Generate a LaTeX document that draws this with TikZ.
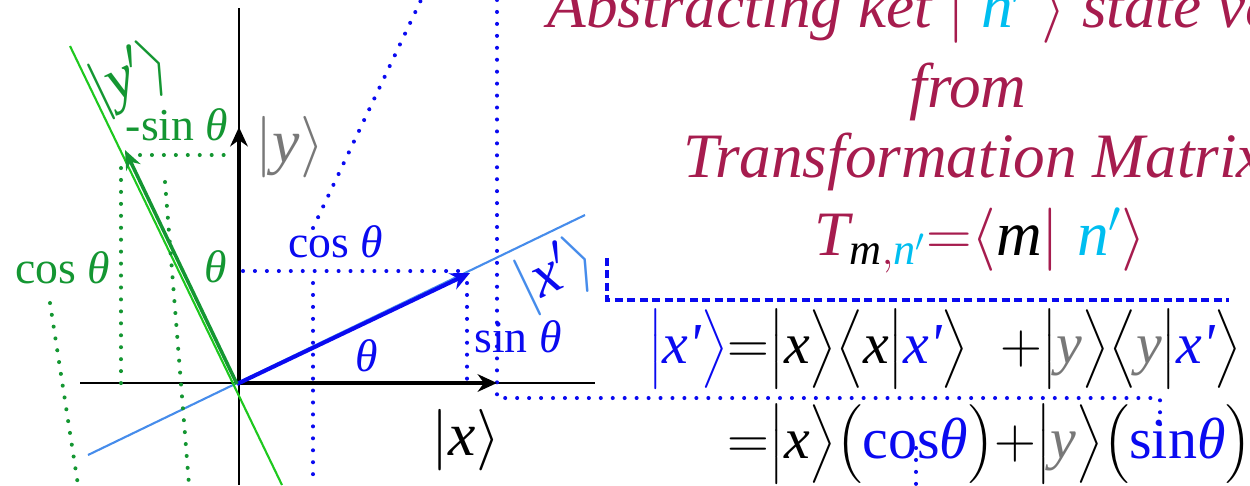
\RequirePackage{fix-cm}
\documentclass[tikz,border=0pt]{standalone}
\usepackage{amsmath}
\usepackage{fontspec}
\setmainfont{Liberation Serif}
\usetikzlibrary{arrows.meta, calc}
\definecolor{crim} {RGB}{166, 28, 78}
\definecolor{kcyan}{RGB}{  0,190,240}
\definecolor{kblue}{RGB}{ 10, 10,240}
\definecolor{lblue}{RGB}{ 70,140,235}
\definecolor{bgrn} {RGB}{ 30,200, 30}
\definecolor{dgrn} {RGB}{ 20,150, 50}
\definecolor{kgray}{RGB}{120,120,120}
\tikzset{
  % Axis lines and basis arrows
  Ax/.style   ={line width=1.1pt,black},
  AxArr/.style={-{Stealth[length=11pt,width=10pt]},line width=2.8pt,black},
  BArr/.style ={-{Stealth[length=11pt,width=10pt]},line width=2.3pt,kblue},
  GArr/.style ={-{Stealth[length=11pt,width=9pt]},line width=2pt,dgrn},
  % Projection lines
  BDot/.style ={kblue,line width=2.3pt,line cap=round,
                dash pattern=on 0pt off 6.8pt},
  GDot/.style ={dgrn,line width=2.3pt,line cap=round,
                dash pattern=on 0pt off 6.8pt},
  BDash/.style={kblue,line width=2.3pt,dash pattern=on 4.5pt off 2.6pt},
  % Text
  Lbl/.style={font=\fontsize{26}{30}\selectfont,inner sep=0pt},
  Ket/.style={font=\fontsize{35}{40}\selectfont,inner sep=0pt},
  Ttl/.style={font=\fontsize{36}{42}\selectfont\itshape,text=crim,
              inner sep=0pt},
  Eq/.style ={font=\fontsize{33}{40}\selectfont,inner sep=0pt},
}
\begin{document}
\begin{tikzpicture}[x=0.02cm,y=-0.02cm]
  \useasboundingbox (0,0) rectangle (1250,485);
  \clip (0,0) rectangle (1250,485);
  % Origin and axes
  \coordinate (O) at (239,383);
  \draw[Ax] (80,383) -- (595,383);
  \draw[Ax] (239,8) -- (239,485);
  % Rotated frame lines
  \draw[lblue,line width=1.2pt] (88,455) -- (585,215);
  \draw[bgrn,line width=1.2pt] (70,46) -- (282,485);
  % Projections of |x'>
  \draw[BDot] (243,271) -- (466,271);
  \draw[BDot] (313,283) -- (313,485);
  \draw[BDot] (467,283) -- (467,383);
  \draw[BDot] (313,228) -- (421,0);
  \draw[BDot] (497,0) -- (497,398) -- (1160,398) -- (1160,428);
  \draw[BDot] (916,448) -- (916,485);
  % Projections of |y'>
  \draw[GDot] (140,155) -- (228,155);
  \draw[GDot] (121,168) -- (121,385);
  \draw[GDot] (165,182) -- (189,485);
  \draw[GDot] (50,303) -- (78,485);
  % Link from label to expansion
  \draw[BDash] (607,258) -- (607,300) -- (1229,300);
  % Basis vectors
  \draw[AxArr] (O) -- (497,383);
  \draw[AxArr] (O) -- (239,127);
  \draw[BArr] (237,384) -- (470,273);
  \draw[GArr] (237,384) -- (125,150);
  % Kets on the axes
  \node[Ket] (kx) at (466,440) {$\vert\textit{x}\rangle$};
  \node[Ket,text=kgray] (ky) at (290,147) {$\vert\textit{y}\rangle$};
  \node[Ket,rotate=25.6] (kxp) at (556,274)
       {$\textcolor{lblue}{\vert}\textcolor{kblue}{\textit{x}'}%
         \textcolor{lblue}{\rangle}$};
  \node[Ket,rotate=25.6,text=dgrn] (kyp) at (130,78)
       {$\vert\textit{y}'\rangle$};
  % Component labels
  \node[Lbl,text=kblue,anchor=base] (bcos) at (336,257) {cos \textit{θ}};
  \node[Lbl,text=kblue,anchor=base] (bsin) at (518,352) {sin \textit{θ}};
  \node[Lbl,text=kblue,anchor=base] (bth)  at (367,371) {\textit{θ}};
  \node[Lbl,text=dgrn,anchor=base]  (gsin) at (177,140) {-sin \textit{θ}};
  \node[Lbl,text=dgrn,anchor=base]  (gcos) at (63,283)  {cos \textit{θ}};
  \node[Lbl,text=dgrn,anchor=base]  (gth)  at (216,282) {\textit{θ}};
  % Title
  \node[Ttl,anchor=base west] (t1) at (547,27)
       {Abstracting ket $\vert$ \textcolor{kcyan}{\textit{n}$'$} $\rangle$
        state vector};
  \node[Ttl,anchor=base] (t2) at (968,107) {from};
  \node[Ttl,anchor=base west] (t3) at (683,177) {Transformation Matrix};
  \node[Ttl,anchor=base west] (t4) at (814,255)
       {$\textit{T}_{\textcolor{black}{\textit{m}},%
         \textcolor{kcyan}{\textit{n}'}}{=}\langle
         \textcolor{black}{\textit{m}}\vert\;
         \textcolor{kcyan}{\textit{n}'}\rangle$};
  % Expansion of |x'>
  \node[Eq,anchor=west] (e1) at (648,349)
       {$\textcolor{kblue}{\big\vert\textit{x\textquotesingle}\big\rangle}
         {=}\big\vert\textit{x}\big\rangle\big\langle\textit{x}\big\vert
         \textcolor{kblue}{\textit{x\textquotesingle}}\big\rangle\;\;
         {+}\big\vert\textcolor{kgray}{\textit{y}}\big\rangle\big\langle
         \textcolor{kgray}{\textit{y}}\big\vert
         \textcolor{kblue}{\textit{x\textquotesingle}}\big\rangle$};
  \node[Eq,anchor=east] (e2) at (1252,444)
       {${=}\big\vert\textit{x}\big\rangle\big(
         \textcolor{kblue}{\textup{cos}\textit{θ}}\big){+}\big\vert
         \textcolor{kgray}{\textit{y}}\big\rangle\big(
         \textcolor{kblue}{\textup{sin}\textit{θ}}\big)$};
\end{tikzpicture}
\end{document}
